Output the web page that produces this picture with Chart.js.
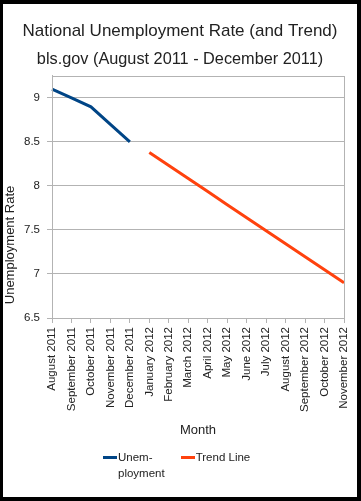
<!DOCTYPE html>
<html>
<head>
<meta charset="utf-8">
<script src="https://cdn.jsdelivr.net/npm/chart.js@4/dist/chart.umd.min.js"></script>
<style>
  html, body { margin: 0; padding: 0; background: #000; }
  #frame { position: absolute; left: 3px; top: 4px; width: 354px; height: 493px; background: #fff; }
  #legend { position: absolute; left: 100px; top: 446px; display: flex; gap: 16px;
    font: 11.5px "Liberation Sans", Arial, sans-serif; color: #222; }
  .item { display: flex; align-items: flex-start; }
  .mark { width: 14px; height: 3px; margin-top: 6px; margin-right: 1px; }
  .txt { white-space: pre-line; line-height: 16px; margin-top: -1px; }
</style>
</head>
<body>
<div id="frame">
  <canvas id="chart" width="354" height="493"></canvas>
  <div id="legend"></div>
</div>
<script>
const months = ['August 2011', 'September 2011', 'October 2011', 'November 2011', 'December 2011',
  'January 2012', 'February 2012', 'March 2012', 'April 2012', 'May 2012', 'June 2012',
  'July 2012', 'August 2012', 'September 2012', 'October 2012', 'November 2012'];
const unemployment = [9.1, 9.0, 8.9, 8.7, 8.5, null, null, null, null, null, null, null, null, null, null, null];
const trendLine = [null, null, null, null, null, 8.38, 8.232, 8.084, 7.936, 7.788, 7.64, 7.492, 7.344, 7.196, 7.048, 6.90];
const yTicks = [6.5, 7, 7.5, 8, 8.5, 9];
const seriesNames = ['Unem-\nployment', 'Trend Line'];
const seriesColors = ['#004586', '#ff420e'];

const font = 'Liberation Sans, Arial, sans-serif';
const gridColor = '#b3b3b3';

// frame round the plot area + y title centred on axis and labels
const extras = {
  id: 'extras',
  afterDraw(chart) {
    const ctx = chart.ctx;
    const a = chart.chartArea;
    ctx.save();
    ctx.strokeStyle = gridColor;
    ctx.lineWidth = 1;
    ctx.strokeRect(Math.round(a.left) + 0.5, Math.round(a.top) + 0.5,
      Math.round(a.right - a.left), Math.round(a.bottom - a.top));
    const xs = chart.scales.x;
    const cy = (a.top + xs.bottom - 34) / 2;
    ctx.translate(7, cy);
    ctx.rotate(-Math.PI / 2);
    ctx.fillStyle = '#222';
    ctx.font = '13px ' + font;
    ctx.textAlign = 'center';
    ctx.textBaseline = 'middle';
    ctx.fillText('Unemployment Rate', 0, 0);
    ctx.restore();
  }
};

new Chart(document.getElementById('chart'), {
  type: 'line',
  data: {
    labels: months,
    datasets: [
      { label: seriesNames[0], data: unemployment, borderColor: seriesColors[0], backgroundColor: seriesColors[0],
        borderWidth: 3, pointRadius: 0, spanGaps: false },
      { label: seriesNames[1], data: trendLine, borderColor: seriesColors[1], backgroundColor: seriesColors[1],
        borderWidth: 3, pointRadius: 0, spanGaps: false }
    ]
  },
  options: {
    responsive: false,
    animation: false,
    layout: { padding: { left: 0, right: 0, bottom: 49 } },
    plugins: {
      legend: { display: false },
      tooltip: { enabled: false },
      title: {
        display: true,
        text: 'National Unemployment Rate (and Trend)',
        color: '#222',
        font: { family: font, size: 17, weight: 'normal' },
        padding: { top: 17, bottom: 8 }
      },
      subtitle: {
        display: true,
        text: 'bls.gov (August 2011 - December 2011)',
        color: '#222',
        font: { family: font, size: 16.3 },
        padding: { top: 0, bottom: 7 }
      }
    },
    scales: {
      x: {
        offset: false,
        grid: { drawOnChartArea: false, drawTicks: true, tickLength: 5, color: gridColor },
        border: { color: gridColor },
        ticks: { color: '#222', font: { family: font, size: 11.5 }, minRotation: 90, maxRotation: 90, padding: 4, autoSkip: false },
        title: { display: true, text: 'Month', color: '#222', font: { family: font, size: 13 }, padding: { top: 4, bottom: 10 } },
        afterFit(scale) { scale.height = 130; scale.paddingRight = 13; scale.paddingLeft = 0; }
      },
      y: {
        min: 6.5,
        max: 9.25,
        afterBuildTicks(scale) { scale.ticks = yTicks.map(v => ({ value: v })); },
        grid: { color: gridColor, tickLength: 5 },
        border: { color: gridColor },
        ticks: { color: '#222', font: { family: font, size: 11.5 }, padding: 7, callback: v => String(v) },
        afterFit(scale) { scale.width = 49; }
      }
    }
  },
  plugins: [extras]
});

// legend below the chart
const legend = document.getElementById('legend');
seriesNames.forEach((name, i) => {
  const item = document.createElement('div');
  item.className = 'item';
  const mark = document.createElement('div');
  mark.className = 'mark';
  mark.style.background = seriesColors[i];
  const txt = document.createElement('div');
  txt.className = 'txt';
  txt.textContent = name;
  item.appendChild(mark);
  item.appendChild(txt);
  legend.appendChild(item);
});
</script>
</body>
</html>
